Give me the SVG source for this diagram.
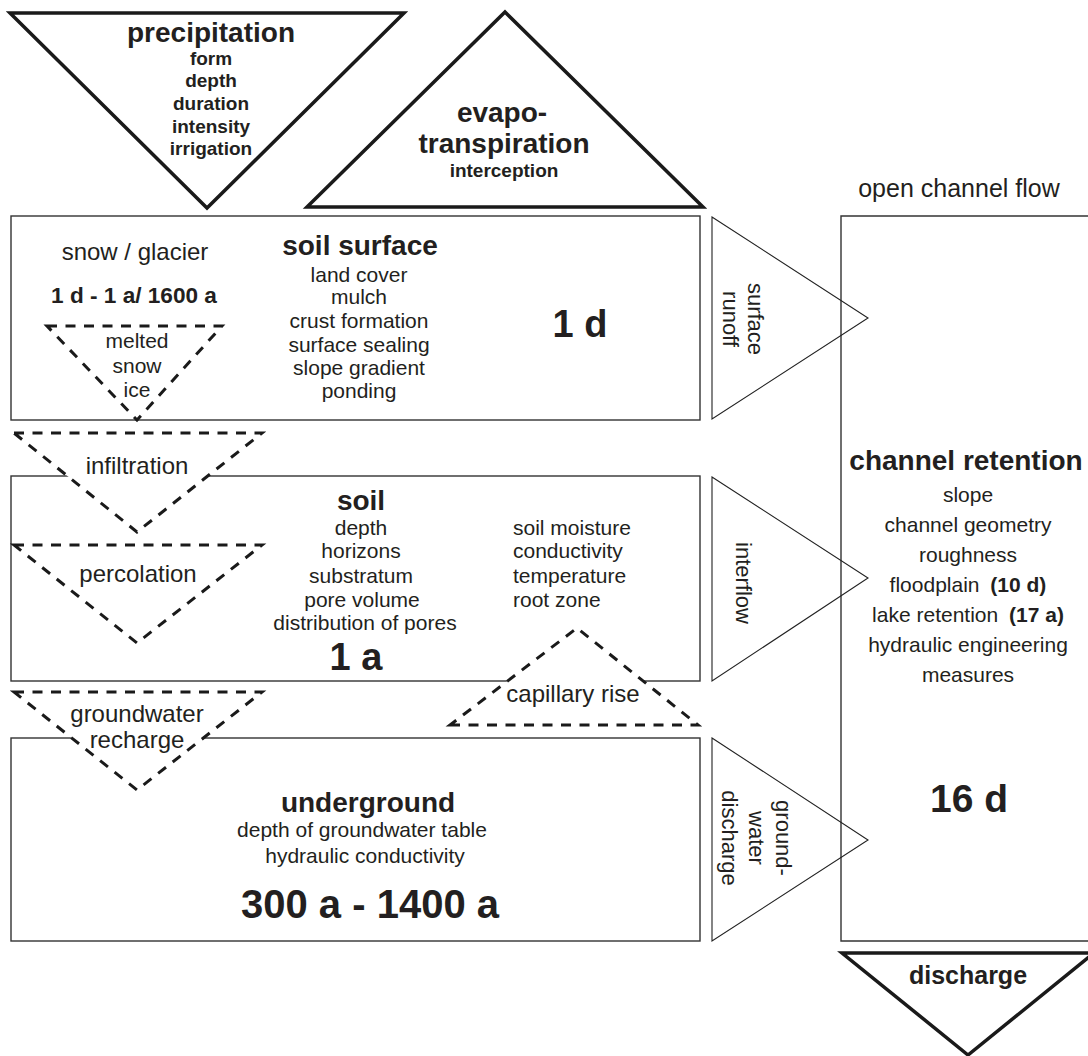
<svg xmlns="http://www.w3.org/2000/svg" width="1088" height="1056" viewBox="0 0 1088 1056">
<style>
text{font-family:"Liberation Sans",Arial,Helvetica,sans-serif;fill:#231f20;text-anchor:middle}
.b{font-weight:bold}
.t28{font-size:28px;font-weight:bold}
.t21{font-size:21px}
.t24{font-size:24px}
.t19{font-size:19px;font-weight:bold}
.big{font-weight:bold}
.box{fill:#fff;stroke:#333;stroke-width:1.4}
.heavy{fill:#fff;stroke:#1a1a1a;stroke-width:3.5;stroke-linejoin:miter}
.flow{fill:none;stroke:#222;stroke-width:1.1}
.dash{fill:#fff;stroke:#1a1a1a;stroke-width:3;stroke-dasharray:10 8.5}
</style>
<rect width="1088" height="1056" fill="#fff"/>

<g id="precipitation">
<polygon class="heavy" points="10,13 404,13 207,208"/>
<text class="t28" x="211" y="42">precipitation</text>
<text class="t19" x="211" y="65">form</text>
<text class="t19" x="211" y="87">depth</text>
<text class="t19" x="211" y="110">duration</text>
<text class="t19" x="211" y="133">intensity</text>
<text class="t19" x="211" y="155">irrigation</text>
</g>

<g id="evapotranspiration">
<polygon class="heavy" points="307,207 703,207 505,12"/>
<text class="t28" x="502" y="122">evapo-</text>
<text class="t28" x="504" y="153">transpiration</text>
<text class="t19" x="504" y="177">interception</text>
</g>

<g id="soil-surface">
<rect class="box" x="11" y="216" width="689" height="204"/>
<text class="t24" x="135" y="260">snow / glacier</text>
<text class="b" font-size="22.6" x="134" y="303">1 d - 1 a/ 1600 a</text>
<text class="t28" x="360" y="255">soil surface</text>
<text class="t21" x="359" y="282">land cover</text>
<text class="t21" x="359" y="304">mulch</text>
<text class="t21" x="359" y="328">crust formation</text>
<text class="t21" x="359" y="352">surface sealing</text>
<text class="t21" x="359" y="375">slope gradient</text>
<text class="t21" x="359" y="398">ponding</text>
<text class="big" font-size="38" x="580" y="337">1 d</text>
</g>

<g id="soil">
<rect class="box" x="11" y="476" width="689" height="205"/>
<text class="t28" x="361" y="510">soil</text>
<text class="t21" x="361" y="535">depth</text>
<text class="t21" x="361" y="558">horizons</text>
<text class="t21" x="361" y="583">substratum</text>
<text class="t21" x="362" y="607">pore volume</text>
<text class="t21" x="365" y="630">distribution of pores</text>
<text class="big" font-size="38" x="356" y="670">1 a</text>
<text class="t21" x="513" y="535" style="text-anchor:start">soil moisture</text>
<text class="t21" x="513" y="558" style="text-anchor:start">conductivity</text>
<text class="t21" x="513" y="583" style="text-anchor:start">temperature</text>
<text class="t21" x="513" y="607" style="text-anchor:start">root zone</text>
</g>

<g id="underground">
<rect class="box" x="11" y="738" width="689" height="203"/>
<text class="t28" x="368" y="812">underground</text>
<text class="t21" x="362" y="837">depth of groundwater table</text>
<text class="t21" x="365" y="863">hydraulic conductivity</text>
<text class="big" font-size="40" x="370" y="918">300 a - 1400 a</text>
</g>

<g id="channel-retention">
<text class="t24" font-size="25" x="959" y="197" style="font-size:25px">open channel flow</text>
<path class="box" d="M1100,216 H841 V941 H1100"/>
<text class="t28" x="966" y="470">channel retention</text>
<text class="t21" x="968" y="502">slope</text>
<text class="t21" x="968" y="532">channel geometry</text>
<text class="t21" x="968" y="562">roughness</text>
<text class="t21" x="968" y="592">floodplain <tspan class="b" dx="5">(10 d)</tspan></text>
<text class="t21" x="968" y="622">lake retention <tspan class="b" dx="5">(17 a)</tspan></text>
<text class="t21" x="968" y="652">hydraulic engineering</text>
<text class="t21" x="968" y="682">measures</text>
<text class="big" font-size="39" x="969" y="812">16 d</text>
</g>

<g id="discharge">
<polygon class="heavy" points="842,953 1094,953 968,1055"/>
<text class="b" font-size="25" x="968" y="984">discharge</text>
</g>

<g id="connectors">
<g id="surface-runoff">
<polygon class="flow" points="712,217 868,318 712,419"/>
<text class="t21" font-size="22" style="font-size:22px" transform="translate(748,319) rotate(90)"><tspan x="0" y="0">surface</tspan><tspan x="0" y="25">runoff</tspan></text>
</g>
<g id="interflow">
<polygon class="flow" points="712,477 868,578 712,681"/>
<text style="font-size:22px" transform="translate(736,583) rotate(90)">interflow</text>
</g>
<g id="groundwater-discharge">
<polygon class="flow" points="712,738 868,840 712,941"/>
<text style="font-size:22px" transform="translate(776,838) rotate(90)"><tspan x="0" y="0">ground-</tspan><tspan x="0" y="27">water</tspan><tspan x="0" y="54">discharge</tspan></text>
</g>
<g id="melted-snow-ice">
<polygon class="dash" points="47,326 222,326 137,420"/>
<text class="t21" x="137" y="348">melted</text>
<text class="t21" x="137" y="373">snow</text>
<text class="t21" x="137" y="397">ice</text>
</g>
<g id="infiltration">
<polygon class="dash" points="14,433 262,433 137,532"/>
<text class="t24" x="137" y="474">infiltration</text>
</g>
<g id="percolation">
<polygon class="dash" points="14,545 262,545 137,643"/>
<text class="t24" x="138" y="582">percolation</text>
</g>
<g id="groundwater-recharge">
<polygon class="dash" points="14,692 262,692 137,790"/>
<text class="t24" x="137" y="722">groundwater</text>
<text class="t24" x="137" y="748">recharge</text>
</g>
<g id="capillary-rise">
<polygon class="dash" points="450,725 698,725 577,628"/>
<text class="t24" x="573" y="702">capillary rise</text>
</g>
</g>
</svg>
